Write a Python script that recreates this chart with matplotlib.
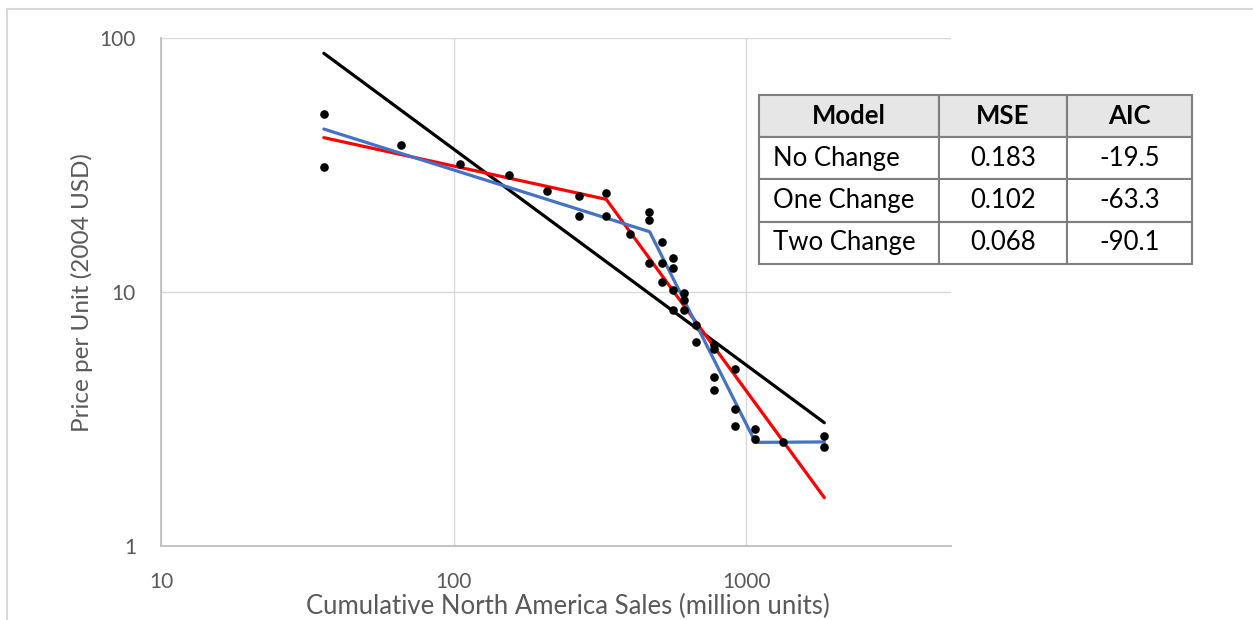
import matplotlib
matplotlib.use("Agg")
import matplotlib.pyplot as plt
from matplotlib.lines import Line2D

# ---- data ----
sales = [36.0, 36.0, 65.9, 104.8, 154, 207.6, 267.8, 267.8, 332, 332, 401,
         463, 463, 463, 514, 514, 514, 560, 560, 560, 560, 613, 613, 613,
         673, 673, 773, 773, 773, 773, 915, 915, 915, 1074, 1074, 1334, 1846, 1846]
price = [50.1, 31.1, 37.9, 32.0, 29.0, 25.0, 24.0, 19.9, 24.5, 20.0, 17.0,
         20.6, 19.3, 13.0, 15.8, 13.0, 10.95, 13.6, 12.5, 10.2, 8.5, 9.9, 9.3, 8.5,
         7.44, 6.36, 6.21, 5.96, 4.63, 4.11, 4.98, 3.48, 2.97, 2.89, 2.65, 2.56, 2.70, 2.46]

no_change_x = [36.0, 1846]
no_change_y = [87.3, 3.06]
one_change_x = [36.0, 332, 1846]
one_change_y = [40.6, 23.2, 1.55]
two_change_x = [36.0, 467, 1074, 1846]
two_change_y = [43.9, 17.3, 2.56, 2.57]

table_header = ["Model", "MSE", "AIC"]
table_models = ["No Change", "One Change", "Two Change"]
table_mse = ["0.183", "0.102", "0.068"]
table_aic = ["-19.5", "-63.3", "-90.1"]

x_ticks = [10, 100, 1000]
y_ticks = [1, 10, 100]

FONT = "Lato"
W, H = 1253, 620
fig = plt.figure(figsize=(W / 100, H / 100), dpi=100)

ax = fig.add_axes([161 / W, 1 - 546 / H, (951 - 161) / W, (546 - 38.3) / H])
ax.set_xscale("log")
ax.set_yscale("log")
ax.set_xlim(10, 5000)
ax.set_ylim(1, 100)

ax.plot(no_change_x, no_change_y, color="black", lw=2.3, solid_capstyle="round", zorder=3)
ax.plot(one_change_x, one_change_y, color="#FF0000", lw=2.3, solid_capstyle="round", zorder=3)
ax.plot(two_change_x, two_change_y, color="#4472C4", lw=2.3, solid_capstyle="round", zorder=4)
ax.plot(sales, price, "o", color="black", ms=6.2, zorder=5, markeredgewidth=0)

ax.set_xticks(x_ticks)
ax.set_xticklabels([str(v) for v in x_ticks])
ax.set_yticks(y_ticks)
ax.set_yticklabels([str(v) for v in y_ticks])
ax.minorticks_off()
ax.tick_params(axis="both", length=0, labelsize=15, labelcolor="#595959")
ax.tick_params(axis="x", pad=19)
ax.tick_params(axis="y", pad=18)
for lab in ax.get_xticklabels() + ax.get_yticklabels():
    lab.set_fontfamily(FONT)

ax.grid(True, which="major", color="#D9D9D9", lw=1.0, zorder=0)
ax.set_axisbelow(True)
for s in ["top", "right"]:
    ax.spines[s].set_visible(False)
for s in ["left", "bottom"]:
    ax.spines[s].set_color("#BFBFBF")
    ax.spines[s].set_linewidth(1.3)

ax.set_xlabel("Cumulative North America Sales (million units)", fontsize=18.5,
              color="#595959", family=FONT, labelpad=2)
ax.xaxis.set_label_coords(0.515, -0.095)
ax.set_ylabel("Price per Unit (2004 USD)", fontsize=17.5, color="#595959",
              family=FONT, labelpad=4.5)

# outer chart border (top and left visible)
fig.add_artist(Line2D([7 / W, 1], [1 - 9 / H, 1 - 9 / H], color="#D9D9D9", lw=1.5,
                      transform=fig.transFigure))
fig.add_artist(Line2D([7 / W, 7 / W], [0, 1 - 9 / H], color="#D9D9D9", lw=1.5,
                      transform=fig.transFigure))

# table
tax = fig.add_axes([759 / W, 1 - 264 / H, (1192 - 759) / W, (264 - 95) / H])
tax.axis("off")
cells = [[m, a, b] for m, a, b in zip(table_models, table_mse, table_aic)]
tbl = tax.table(cellText=cells, colLabels=table_header, cellLoc="center",
                bbox=[0, 0, 1, 1], colWidths=[180, 128, 125])
tbl.auto_set_font_size(False)
for (r, c), cell in tbl.get_celld().items():
    cell.set_edgecolor("#7F7F7F")
    cell.set_linewidth(1.5)
    txt = cell.get_text()
    txt.set_fontfamily(FONT)
    txt.set_fontsize(18.5)
    txt.set_color("black")
    if r == 0:
        cell.set_facecolor("#E7E6E6")
        txt.set_fontweight("bold")
    else:
        cell.set_facecolor("white")
        if c == 0:
            cell._loc = "left"
            txt.set_ha("left")
            cell.PAD = 0.08

fig.savefig("out.png", dpi=100)
